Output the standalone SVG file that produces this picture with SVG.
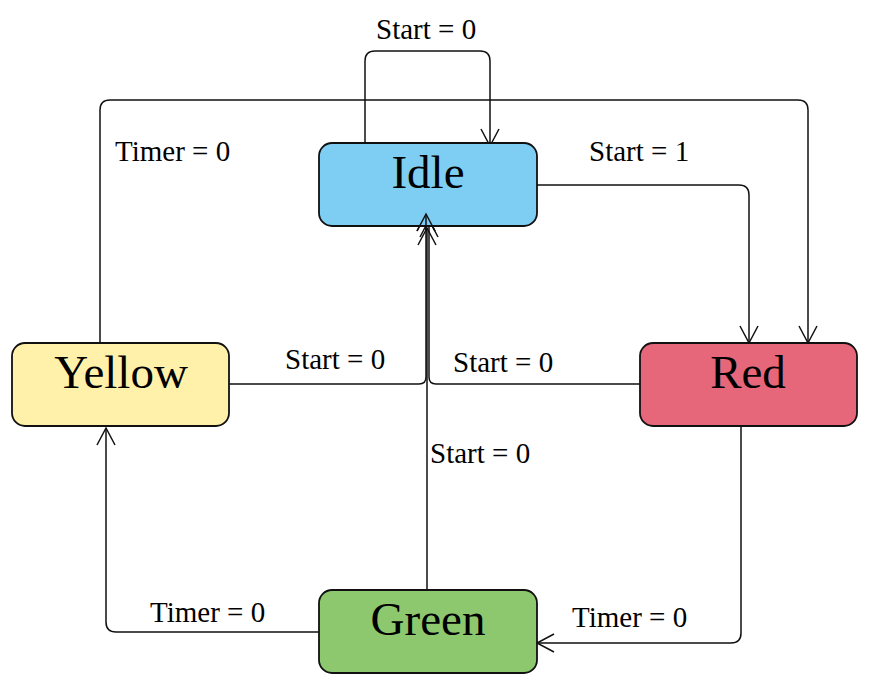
<svg xmlns="http://www.w3.org/2000/svg" width="869" height="690" viewBox="0 0 869 690">
<style>
.node{stroke:#111;stroke-width:1.8}
.nt{font-family:"Liberation Serif","Times New Roman",serif;font-size:47px;fill:#000;text-anchor:middle}
.lbl{font-family:"Liberation Serif","Times New Roman",serif;font-size:29px;fill:#000}
.edge{fill:none;stroke:#111;stroke-width:1.5;marker-end:url(#arr)}
</style>
<defs>
<marker id="arr" markerUnits="userSpaceOnUse" markerWidth="22" markerHeight="22" viewBox="0 0 22 22" refX="19" refY="11" orient="auto">
<path d="M2,2 L19,11 L2,20" fill="none" stroke="#111" stroke-width="1.5"/>
</marker>
</defs>
<rect width="869" height="690" fill="#fff"/>
<g id="connectors">
<path class="edge" d="M365,143 V61 Q365,51 375,51 H480 Q490,51 490,61 V146"/>
<path class="edge" d="M100,343 V110 Q100,100 110,100 H798 Q808,100 808,110 V343"/>
<path class="edge" d="M537,185 H739 Q749,185 749,195 V343"/>
<path class="edge" d="M229,384 H419 Q426,384 426,377 V214"/>
<path class="edge" d="M640,384 H436 Q429,384 429,377 V220"/>
<path class="edge" d="M427,590 V228"/>
<path class="edge" d="M741,426 V633 Q741,643 731,643 H537"/>
<path class="edge" d="M319,632 H116 Q106,632 106,622 V428"/>
<text class="lbl" x="376" y="39">Start = 0</text>
<text class="lbl" x="115" y="161">Timer = 0</text>
<text class="lbl" x="589" y="161">Start = 1</text>
<text class="lbl" x="285" y="369">Start = 0</text>
<text class="lbl" x="453" y="372">Start = 0</text>
<text class="lbl" x="430" y="463">Start = 0</text>
<text class="lbl" x="572" y="627">Timer = 0</text>
<text class="lbl" x="150" y="622">Timer = 0</text>
</g>
<g id="idle">
<rect class="node" x="319" y="143" width="218" height="83" rx="13" fill="#7ECEF4"/>
<text class="nt" x="428" y="188">Idle</text>
</g>
<g id="yellow">
<rect class="node" x="12" y="343" width="217" height="83" rx="13" fill="#FFF0AA"/>
<text class="nt" x="121" y="388">Yellow</text>
</g>
<g id="red">
<rect class="node" x="640" y="343" width="217" height="83" rx="13" fill="#E6667A"/>
<text class="nt" x="748" y="388">Red</text>
</g>
<g id="green">
<rect class="node" x="319" y="590" width="218" height="83" rx="13" fill="#8DC86E"/>
<text class="nt" x="428" y="635">Green</text>
</g>
<g id="arrows-over">
<path d="M426,230 V214" fill="none" stroke="#111" stroke-width="1.5" marker-end="url(#arr)"/>
</g>
</svg>
